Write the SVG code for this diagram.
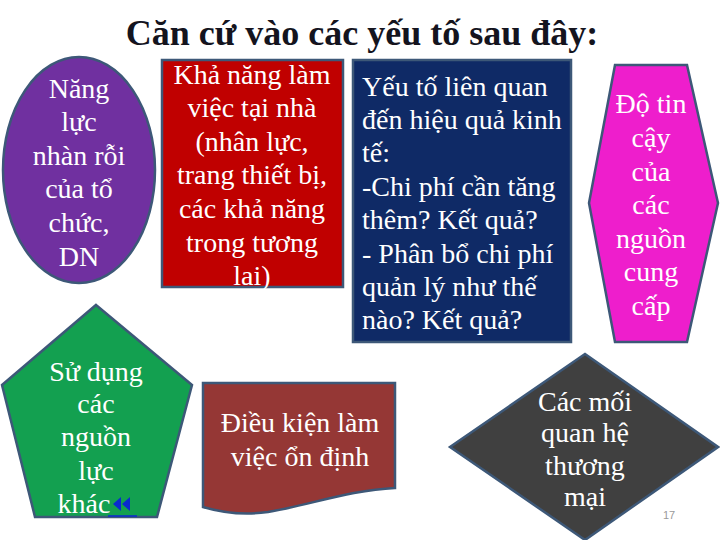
<svg xmlns="http://www.w3.org/2000/svg" width="720" height="540" viewBox="0 0 720 540">
<style>
.shape{stroke:#3d5878;stroke-width:2.5}
.t{font-family:"Liberation Serif","Times New Roman",serif;font-size:28px;fill:#ffffff}
.c{text-anchor:middle}
.title{font-family:"Liberation Serif","Times New Roman",serif;font-size:36px;font-weight:bold;fill:#14141e;text-anchor:middle}
.num{font-family:"Liberation Sans",Arial,sans-serif;font-size:11px;fill:#9a9a9a;text-anchor:middle}
.link{fill:#0a2ad0}
</style>
<rect x="0" y="0" width="720" height="540" fill="#ffffff"/>
<text class="title" x="362" y="45">Căn cứ vào các yếu tố sau đây:</text>

<g id="node-nang-luc">
<ellipse class="shape" cx="79" cy="170" rx="76" ry="113" fill="#7030a0"/>
<text class="t c" x="79" y="98">Năng</text>
<text class="t c" x="79" y="131">lực</text>
<text class="t c" x="79" y="165">nhàn rỗi</text>
<text class="t c" x="79" y="198">của tổ</text>
<text class="t c" x="79" y="232">chức,</text>
<text class="t c" x="79" y="266">DN</text>
</g>

<g id="node-kha-nang">
<rect class="shape" x="162" y="60" width="181" height="227" fill="#c00000"/>
<text class="t c" x="252" y="84">Khả năng làm</text>
<text class="t c" x="252" y="117">việc tại nhà</text>
<text class="t c" x="252" y="151">(nhân lực,</text>
<text class="t c" x="252" y="184">trang thiết bị,</text>
<text class="t c" x="252" y="218">các khả năng</text>
<text class="t c" x="252" y="252">trong tương</text>
<text class="t c" x="252" y="285">lai)</text>
</g>

<g id="node-yeu-to">
<rect class="shape" x="353" y="60" width="218" height="282" fill="#0f2a66"/>
<text class="t" x="362" y="96">Yếu tố liên quan</text>
<text class="t" x="362" y="129">đến hiệu quả kinh</text>
<text class="t" x="362" y="162">tế:</text>
<text class="t" x="362" y="196">-Chi phí cần tăng</text>
<text class="t" x="362" y="229">thêm? Kết quả?</text>
<text class="t" x="362" y="263">- Phân bổ chi phí</text>
<text class="t" x="362" y="296">quản lý như thế</text>
<text class="t" x="362" y="329">nào? Kết quả?</text>
</g>

<g id="node-do-tin-cay">
<polygon class="shape" points="615,65 687,65 718,203 687,342 615,342 589,203" fill="#ee1ecc"/>
<text class="t c" x="651" y="113">Độ tin</text>
<text class="t c" x="651" y="147">cậy</text>
<text class="t c" x="651" y="181">của</text>
<text class="t c" x="651" y="214">các</text>
<text class="t c" x="651" y="248">nguồn</text>
<text class="t c" x="651" y="281">cung</text>
<text class="t c" x="651" y="315">cấp</text>
</g>

<g id="node-su-dung">
<polygon class="shape" points="96,305 192,385 157,517 35,517 2,385" fill="#13a050"/>
<text class="t c" x="96" y="381">Sử dụng</text>
<text class="t c" x="96" y="413">các</text>
<text class="t c" x="96" y="446">nguồn</text>
<text class="t c" x="96" y="480">lực</text>
<text class="t c" x="84" y="513">khác</text>
<polygon class="link" points="121,497 113,504 121,511"/>
<polygon class="link" points="130,497 122,504 130,511"/>
<line x1="108" y1="516" x2="137" y2="516" stroke="#0a2ad0" stroke-width="1.5"/>
</g>

<g id="node-dieu-kien">
<path class="shape" d="M203,383 H395 V488 C350,490 310,505 268,512 C240,516 220,512 203,507 Z" fill="#953735"/>
<text class="t c" x="300" y="432">Điều kiện làm</text>
<text class="t c" x="300" y="466">việc ổn định</text>
</g>

<g id="node-quan-he">
<polygon class="shape" points="585,354 718,447 585,540 450,447" fill="#404040"/>
<text class="t c" x="585" y="411">Các mối</text>
<text class="t c" x="585" y="442">quan hệ</text>
<text class="t c" x="585" y="475">thương</text>
<text class="t c" x="585" y="506">mại</text>
</g>

<g id="connectors"></g>
<text class="num" x="669" y="519">17</text>
</svg>
